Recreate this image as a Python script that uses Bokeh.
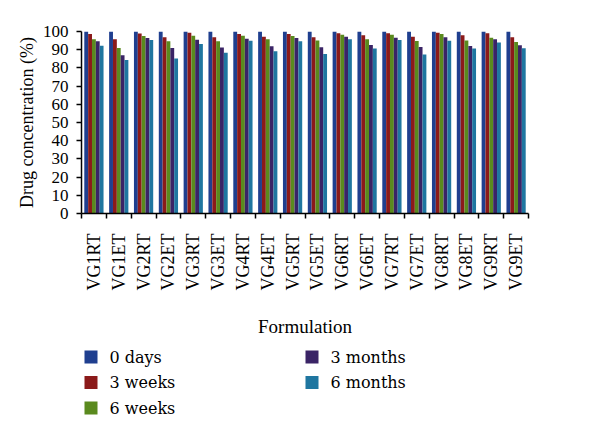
from bokeh.plotting import figure
from bokeh.models import FixedTicker, Range1d, ColumnDataSource
from bokeh.core.properties import value
from bokeh.layouts import column
from bokeh.embed import file_html
from bokeh.resources import INLINE
import math

categories = ["VG1RT", "VG1ET", "VG2RT", "VG2ET", "VG3RT", "VG3ET", "VG4RT", "VG4ET", "VG5RT",
              "VG5ET", "VG6RT", "VG6ET", "VG7RT", "VG7ET", "VG8RT", "VG8ET", "VG9RT", "VG9ET"]
series_names = ["0 days", "3 weeks", "6 weeks", "3 months", "6 months"]
days0 = [100, 100, 100, 100, 100, 100, 100, 100, 100, 100, 100, 100, 100, 100, 100, 100, 100, 100]
weeks3 = [98.6, 95.8, 98.9, 96.8, 99.3, 96.8, 98.6, 97.1, 98.6, 96.9, 99.1, 98.0, 99.1, 97.1, 99.3, 98.0, 99.1, 96.8]
weeks6 = [95.8, 91.0, 97.5, 94.6, 97.7, 94.6, 97.7, 95.8, 97.5, 95.1, 98.2, 95.7, 98.2, 94.8, 98.6, 95.1, 96.6, 94.2]
months3 = [94.6, 87.0, 96.4, 91.0, 95.5, 91.2, 96.0, 91.9, 96.4, 91.3, 97.1, 92.6, 96.6, 91.5, 96.8, 92.1, 95.7, 92.4]
months6 = [92.2, 84.3, 95.3, 85.2, 93.1, 88.3, 94.9, 89.2, 94.6, 87.7, 95.8, 90.6, 95.3, 87.4, 94.9, 90.6, 93.9, 90.8]
colors = ["#1f3f8f", "#8b1a1a", "#5a8a1e", "#3a2466", "#1f76a0"]
yticks = list(range(0, 101, 10))

series = [days0, weeks3, weeks6, months3, months6]

FONT = "Liberation Serif"
LEGEND_FONT = "DejaVu Serif"

p = figure(width=592, height=340, output_backend="svg", toolbar_location=None,
           x_range=Range1d(0, len(categories)), y_range=Range1d(0, 100),
           min_border_left=81, min_border_top=31, min_border_bottom=124, min_border_right=64)
p.outline_line_color = None
p.xgrid.visible = False
p.ygrid.visible = False

bw = 0.155
for k, (vals, col) in enumerate(zip(series, colors)):
    xs = [i + 0.5 + (k - 2) * bw for i in range(len(categories))]
    p.vbar(x=xs, top=vals, bottom=0, width=bw, fill_color=col, line_color=None)

# y axis
p.yaxis.ticker = FixedTicker(ticks=yticks)
p.yaxis.axis_label = "Drug concentration (%)"
p.yaxis.axis_label_text_font = FONT
p.yaxis.axis_label_text_font_style = "normal"
p.yaxis.axis_label_text_font_size = "18px"
p.yaxis.axis_label_text_color = "black"
p.yaxis.axis_label_standoff = 3
p.yaxis.major_label_text_font = FONT
p.yaxis.major_label_text_font_size = "17px"
p.yaxis.major_label_text_color = "black"
p.yaxis.axis_line_width = 1.5
p.yaxis.axis_line_color = "black"
p.yaxis.major_tick_in = 0
p.yaxis.major_tick_out = 5
p.yaxis.major_tick_line_width = 1.5
p.yaxis.minor_tick_line_color = None
p.yaxis.major_label_standoff = 8

# x axis
p.xaxis.ticker = FixedTicker(ticks=[i + 0.5 for i in range(len(categories))],
                             minor_ticks=list(range(len(categories) + 1)))
p.xaxis.major_label_overrides = {i + 0.5: c for i, c in enumerate(categories)}
p.xaxis.major_label_orientation = math.pi / 2
p.xaxis.major_label_text_font = FONT
p.xaxis.major_label_text_font_size = "18px"
p.xaxis.major_label_text_color = "black"
p.xaxis.major_tick_line_color = None
p.xaxis.minor_tick_in = 0
p.xaxis.minor_tick_out = 5
p.xaxis.minor_tick_line_width = 1.5
p.xaxis.minor_tick_line_color = "black"
p.xaxis.axis_line_width = 1.5
p.xaxis.axis_line_color = "black"
p.xaxis.major_label_standoff = 14
p.xaxis.axis_label = "Formulation"
p.xaxis.axis_label_text_font = FONT
p.xaxis.axis_label_text_font_style = "normal"
p.xaxis.axis_label_text_font_size = "19px"
p.xaxis.axis_label_text_color = "black"
p.xaxis.axis_label_standoff = 23

# legend panel: its frame is aligned with the chart frame (page x 81..528, page y 340..429)
lf = figure(width=592, height=89, output_backend="svg", toolbar_location=None,
            x_range=Range1d(81, 528), y_range=Range1d(429, 340),
            min_border_left=0, min_border_right=0, min_border_top=0, min_border_bottom=0)
lf.axis.visible = False
lf.xgrid.visible = False
lf.ygrid.visible = False
lf.outline_line_color = None

legend_col_x = [84, 84, 84, 305, 305]
legend_row_y = [356.5, 382, 407.5, 356.5, 382]
sq = 13
src = ColumnDataSource(dict(
    x=[c + sq / 2 for c in legend_col_x],
    tx=[c + sq + 12 for c in legend_col_x],
    y=legend_row_y, color=colors, name=series_names))
lf.rect(x="x", y="y", width=sq, height=sq, fill_color="color", line_color=None, source=src)
lf.text(x="tx", y="y", text="name", text_font=value(LEGEND_FONT), text_font_size="16px",
        text_color="black", text_baseline="middle", text_align="left", source=src)

layout = column(p, lf, spacing=0)
open("out.html", "w").write(file_html(layout, INLINE))
